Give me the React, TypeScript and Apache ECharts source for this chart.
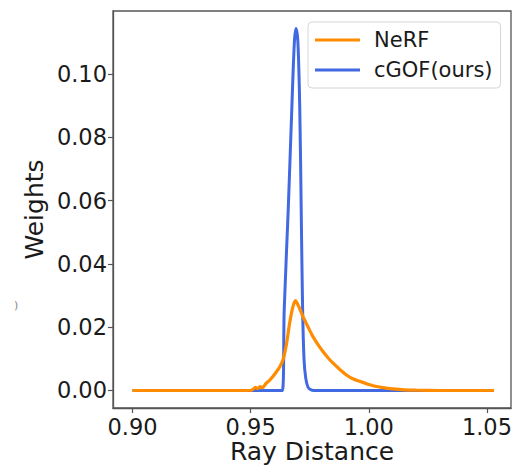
import React, { useEffect, useRef } from "react";
import * as echarts from "echarts";

const seriesNames = ["NeRF", "cGOF(ours)"];

const nerfX = [0.9, 0.95, 0.951, 0.952, 0.953, 0.954, 0.955, 0.9566, 0.958, 0.9594, 0.961, 0.9623, 0.9637, 0.9651, 0.9665, 0.9679, 0.969, 0.9707, 0.972, 0.9735, 0.975, 0.9763, 0.9785, 0.9806, 0.983, 0.9848, 0.9875, 0.9904, 0.993, 0.9961, 1.0017, 1.006, 1.01, 1.015, 1.02, 1.03, 1.053];
const nerfY = [0, 0, 0.0004, 0.001, 0.0006, 0.0012, 0.0009, 0.0023, 0.0032, 0.0044, 0.006, 0.0074, 0.0097, 0.0144, 0.0213, 0.0265, 0.0284, 0.026, 0.0236, 0.0213, 0.019, 0.0171, 0.0145, 0.0123, 0.0101, 0.0087, 0.0068, 0.005, 0.0038, 0.0029, 0.0015, 0.0009, 0.0005, 0.0002, 0.0001, 0, 0];

const cgofX = [0.9, 0.9634, 0.9642, 0.9659, 0.9674, 0.9685, 0.9692, 0.97, 0.9708, 0.9714, 0.972, 0.9726, 0.9733, 0.9742, 0.9753, 0.9768, 1.053];
const cgofY = [0, 0, 0.0254, 0.057, 0.0886, 0.11, 0.1144, 0.11, 0.0886, 0.057, 0.0254, 0.0097, 0.004, 0.0012, 0.0003, 0, 0];

const xTicks = [0.9, 0.95, 1.0, 1.05];
const yTicks = [0, 0.02, 0.04, 0.06, 0.08, 0.1];

const xName = "Ray Distance";
const yName = "Weights";

export default function App() {
  const ref = useRef<HTMLDivElement>(null);
  useEffect(() => {
    if (!ref.current) return;
    const chart = echarts.init(ref.current, null, { renderer: "svg" });
    const font = "DejaVu Sans";
    const textColor = "#1a1a1a";
    const frameColor = "#555";
    chart.setOption({
      animation: false,
      backgroundColor: "#fff",
      textStyle: { fontFamily: font },
      grid: {
        left: 113,
        top: 11,
        width: 398,
        height: 397,
        outerBoundsMode: "none",
        containLabel: false,
        show: true,
        borderColor: frameColor,
        borderWidth: 1.3,
        backgroundColor: "transparent",
      },
      legend: {
        data: seriesNames,
        orient: "vertical",
        left: 308,
        top: 22,
        padding: [7, 8, 7, 7],
        itemGap: 8,
        itemWidth: 45,
        itemHeight: 3,
        icon: "rect",
        backgroundColor: "#fff",
        borderColor: "#d6d6d6",
        borderWidth: 1,
        borderRadius: 4,
        textStyle: {
          fontFamily: font,
          fontSize: 21,
          color: textColor,
          padding: [0, 0, 0, 9],
          lineHeight: 22,
        },
      },
      xAxis: {
        type: "value",
        min: 0.89175,
        max: 1.06018,
        name: xName,
        nameLocation: "middle",
        nameGap: 31,
        nameMoveOverlap: false,
        nameTextStyle: { fontFamily: font, fontSize: 25, color: textColor, lineHeight: 25 },
        axisLine: { show: true, onZero: false, lineStyle: { color: frameColor, width: 1.3 } },
        axisTick: {
          show: true,
          inside: false,
          length: 5,
          customValues: xTicks,
          lineStyle: { color: frameColor, width: 1.2 },
        },
        axisLabel: {
          show: true,
          customValues: xTicks,
          margin: 7,
          fontFamily: font,
          fontSize: 22.5,
          color: textColor,
          formatter: (v: number) => v.toFixed(2),
        },
        splitLine: { show: false },
      },
      yAxis: {
        type: "value",
        min: -0.00553,
        max: 0.1199,
        name: yName,
        nameLocation: "middle",
        nameGap: 66,
        nameMoveOverlap: false,
        nameRotate: 90,
        nameTextStyle: { fontFamily: font, fontSize: 25, color: textColor },
        axisLine: { show: true, lineStyle: { color: frameColor, width: 1.3 } },
        axisTick: {
          show: true,
          inside: false,
          length: 5,
          customValues: yTicks,
          lineStyle: { color: frameColor, width: 1.2 },
        },
        axisLabel: {
          show: true,
          customValues: yTicks,
          margin: 6,
          fontFamily: font,
          fontSize: 22.5,
          color: textColor,
          formatter: (v: number) => v.toFixed(2),
        },
        splitLine: { show: false },
      },
      graphic: [
        {
          type: "text",
          left: 14,
          top: 300,
          style: { text: ")", fontSize: 11, fill: "#888", fontFamily: font },
        },
      ],
      series: [
        {
          name: seriesNames[1],
          type: "line",
          data: cgofX.map((x, i) => [x, cgofY[i]]),
          showSymbol: false,
          symbol: "none",
          smooth: 0.3,
          lineStyle: { color: "#4169E1", width: 3 },
          itemStyle: { color: "#4169E1" },
          z: 2,
        },
        {
          name: seriesNames[0],
          type: "line",
          data: nerfX.map((x, i) => [x, nerfY[i]]),
          showSymbol: false,
          symbol: "none",
          smooth: 0.2,
          lineStyle: { color: "#FF8C00", width: 3.2 },
          itemStyle: { color: "#FF8C00" },
          z: 3,
        },
      ],
    });
    return () => chart.dispose();
  }, []);
  return (
    <div
      ref={ref}
      style={{ position: "fixed", left: 0, top: 0, width: 512, height: 468 }}
    />
  );
}
